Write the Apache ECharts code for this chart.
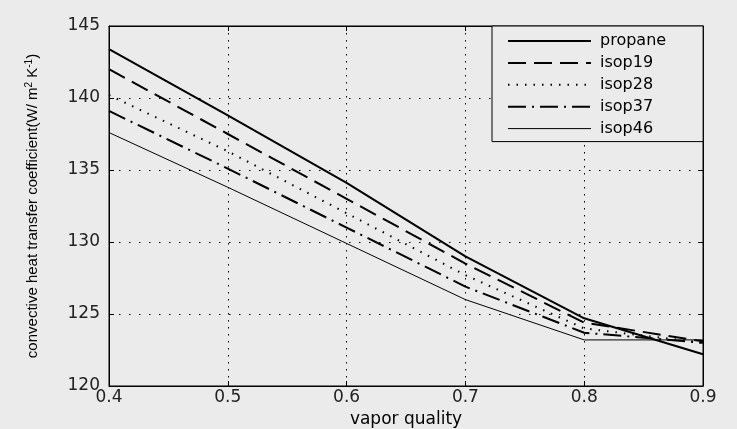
<!DOCTYPE html>
<html>
<head>
<meta charset="utf-8">
<script src="https://cdn.jsdelivr.net/npm/echarts@6/dist/echarts.min.js"></script>
<style>
  html, body { margin: 0; padding: 0; background: #ebebeb; }
  #chart { width: 737px; height: 429px; }
</style>
</head>
<body>
<div id="chart"></div>
<script>
const quality = [0.4, 0.5, 0.6, 0.7, 0.8, 0.9];
const propane = [143.4, 138.8, 134.1, 129.0, 124.7, 122.2];
const isop19 = [142.0, 137.5, 133.0, 128.5, 124.4, 123.1];
const isop28 = [140.2, 136.3, 132.0, 127.7, 124.0, 123.0];
const isop37 = [139.1, 135.1, 131.0, 126.9, 123.7, 123.0];
const isop46 = [137.6, 133.8, 129.9, 126.0, 123.2, 123.2];

const bg = '#ebebeb';
const tickFont = 'DejaVu Sans';

function pairs(ys) {
    return quality.map((x, i) => [x, ys[i]]);
}

function mkSeries(name, ys, width, type) {
    return {
        name: name,
        type: 'line',
        data: pairs(ys),
        symbol: 'none',
        showSymbol: false,
        silent: true,
        lineStyle: { color: '#000', width: width, type: type },
        itemStyle: { color: '#000' }
    };
}

const xTicks = {
    type: 'value', min: 0.4, max: 0.9, interval: 0.1
};
const yTicks = {
    type: 'value', min: 120, max: 145, interval: 5
};

const option = {
    backgroundColor: bg,
    animation: false,
    grid: {
        left: 109, right: 34, top: 26, bottom: 43,
        outerBoundsMode: 'none',
        containLabel: false,
        show: true,
        borderColor: '#000',
        borderWidth: 1,
        backgroundColor: bg
    },
    legend: {
        orient: 'vertical',
        left: 492,
        top: 26,
        backgroundColor: bg,
        borderColor: '#000',
        borderWidth: 1,
        borderRadius: 0,
        padding: [7, 37, 5, 15],
        itemWidth: 83,
        itemHeight: 14,
        itemGap: 5.9,
        itemStyle: { opacity: 0 },
        textStyle: { fontFamily: tickFont, fontSize: 16, color: '#000', padding: [0, 0, 0, 4] },
        data: ['propane', 'isop19', 'isop28', 'isop37',
            { name: 'isop46', lineStyle: { width: 1 } }]
    },
    xAxis: [
        Object.assign({}, xTicks, {
            position: 'bottom',
            name: 'vapor quality',
            nameLocation: 'middle',
            nameGap: 24,
            nameTextStyle: { fontFamily: tickFont, fontSize: 17, color: '#000' },
            axisLine: { lineStyle: { color: '#000', width: 1 } },
            axisTick: { inside: true, length: 5, lineStyle: { color: '#000' } },
            axisLabel: {
                fontFamily: tickFont, fontSize: 17, color: '#222', margin: 3,
                formatter: v => v.toFixed(1)
            },
            splitLine: { show: true, lineStyle: { color: '#000', type: [1.5, 5.5], width: 1 } }
        }),
        Object.assign({}, xTicks, {
            position: 'top',
            axisLine: { lineStyle: { color: '#000' } },
            axisTick: { inside: true, length: 5, lineStyle: { color: '#000' } },
            axisLabel: { show: false },
            splitLine: { show: false }
        })
    ],
    yAxis: [
        Object.assign({}, yTicks, {
            position: 'left',
            name: 'convective heat transfer coefficient(W/ m{sup|2} K{sup|-1})',
            nameLocation: 'middle',
            nameGap: 67,
            nameTextStyle: {
                fontFamily: 'Liberation Sans Narrow, Liberation Sans, Arial',
                fontSize: 15,
                color: '#000',
                rich: {
                    sup: { fontSize: 10, verticalAlign: 'top', padding: [0, 0, 8, 0] }
                }
            },
            axisLine: { show: true, lineStyle: { color: '#000', width: 1 } },
            axisTick: { show: true, inside: true, length: 5, lineStyle: { color: '#000' } },
            axisLabel: { fontFamily: tickFont, fontSize: 17, color: '#222', margin: 9 },
            splitLine: { show: true, lineStyle: { color: '#000', type: [1.5, 8.5], width: 1 } }
        }),
        Object.assign({}, yTicks, {
            position: 'right',
            axisLine: { show: true, lineStyle: { color: '#000' } },
            axisTick: { show: true, inside: true, length: 5, lineStyle: { color: '#000' } },
            axisLabel: { show: false },
            splitLine: { show: false }
        })
    ],
    series: [
        mkSeries('propane', propane, 2, 'solid'),
        mkSeries('isop19', isop19, 2, [18, 8]),
        mkSeries('isop28', isop28, 2, [1.5, 7]),
        mkSeries('isop37', isop37, 2, [18, 6, 2, 6]),
        mkSeries('isop46', isop46, 1, 'solid')
    ]
};

const chart = echarts.init(document.getElementById('chart'), null, { renderer: 'canvas' });
chart.setOption(option);
</script>
</body>
</html>
